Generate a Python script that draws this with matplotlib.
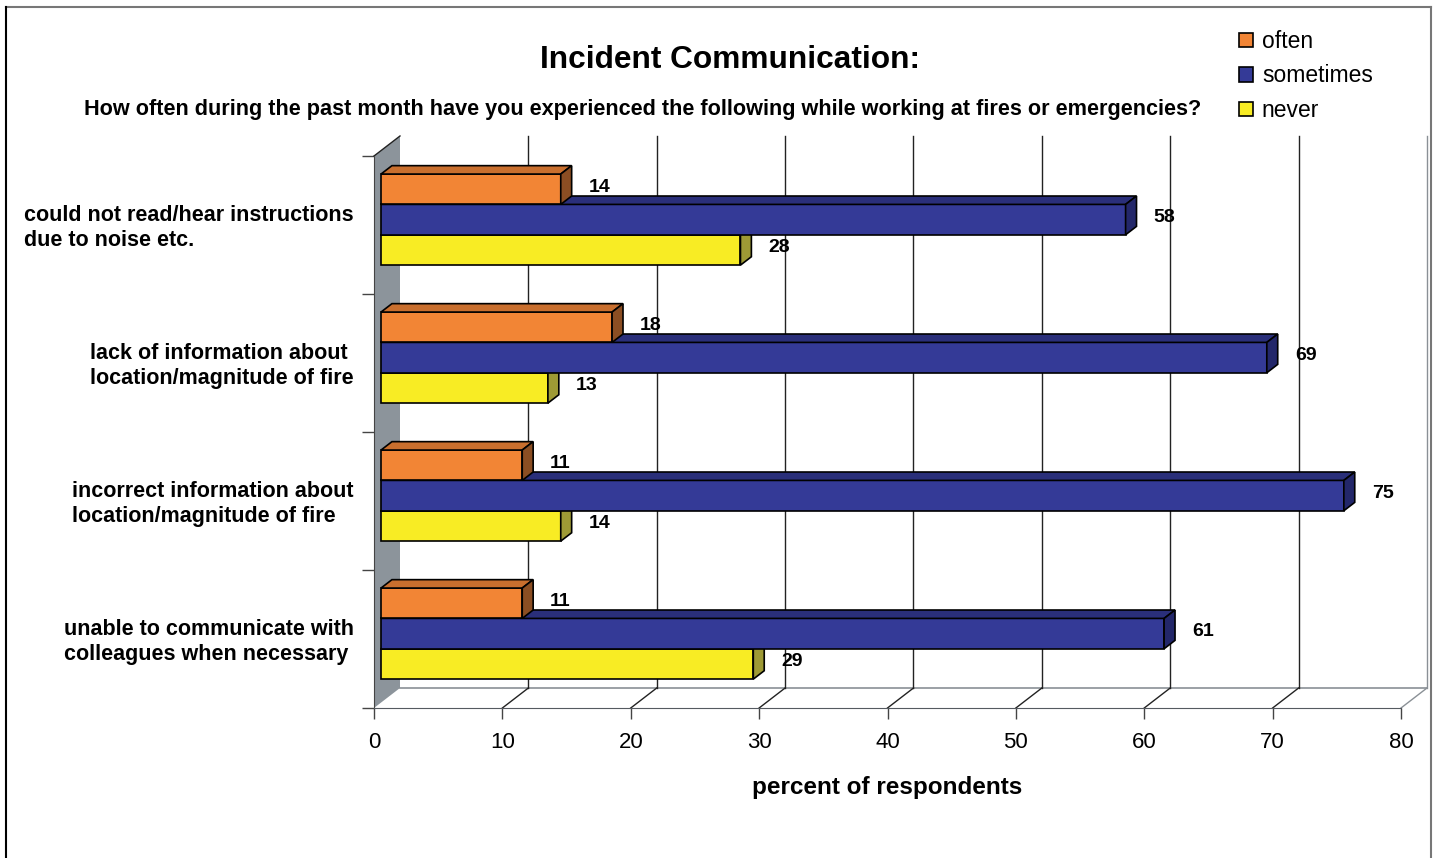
import numpy as np
import matplotlib
matplotlib.use("Agg")
import matplotlib.pyplot as plt
from matplotlib.patches import Polygon, Patch
from matplotlib.lines import Line2D

plt.rcParams['font.family'] = ['Liberation Sans', 'DejaVu Sans']

# 1 - Data
categories = ["could not read/hear instructions\ndue to noise etc.",
              "lack of information about\nlocation/magnitude of fire",
              "incorrect information about\nlocation/magnitude of fire",
              "unable to communicate with\ncolleagues when necessary"]
often = [14, 18, 11, 11]
sometimes = [58, 69, 75, 61]
never = [28, 13, 14, 29]
series_names = ['often', 'sometimes', 'never']
xticks = [0, 10, 20, 30, 40, 50, 60, 70, 80]

# face colours: front, top, side
cols = {'often': ('#F28535', '#C96F2E', '#8B4E23'),
        'sometimes': ('#343A97', '#2A2F7A', '#23276A'),
        'never': ('#F8EC24', '#C8BF1E', '#9E9A35')}

# 3-D depth expressed in data units (linear axes -> constant offsets)
DX, DY = 2.025, 0.145
D0, D1 = 0.27, 0.69   # bar front/back depth fraction
H = 0.22              # bar thickness

# 2 - Plot
fig = plt.figure(figsize=(14.35, 8.58), dpi=100)
ax = fig.add_axes([374/1435, 1-708/858, (1401-374)/1435, (708-156)/858])
ax.set_xlim(0, 80)
ax.set_ylim(0, 4)
for s in ['top', 'right']:
    ax.spines[s].set_visible(False)
ax.spines['bottom'].set_color('#555a60')
ax.spines['left'].set_color('#444444')
ax.patch.set_alpha(0)

# left wall
wall = Polygon([(0, 0), (DX, DY), (DX, 4 + DY), (0, 4)], closed=True,
               fc='#8C949B', ec='none', zorder=1, clip_on=False)
ax.add_patch(wall)
ax.plot([0, DX], [4, 4 + DY], color='#222222', lw=1, clip_on=False, zorder=2)

# floor and back gridlines
ax.plot([DX, 80 + DX], [DY, DY], color='#8A9096', lw=1.2, clip_on=False, zorder=1)
for xv in xticks[1:]:
    ax.plot([xv, xv + DX], [0, DY], color='#222222' if xv < 80 else '#8A9096',
            lw=1, clip_on=False, zorder=1)
    ax.plot([xv + DX, xv + DX], [DY, 4 + DY], color='#222222' if xv < 80 else '#8A9096',
            lw=1, clip_on=False, zorder=1)

# bars: draw bottom series first so upper bars cover lower tops
data = {'often': often, 'sometimes': sometimes, 'never': never}
shift = {'often': H, 'sometimes': 0.0, 'never': -H}
z = 3
for gi in range(len(categories)):
    yc = 3.5 - gi
    for name in ['never', 'sometimes', 'often']:
        v = data[name][gi]
        fc, tc, sc = cols[name]
        x0 = DX * D0
        yb = yc + shift[name] - H / 2 + DY * D0
        yt = yb + H
        ddx, ddy = DX * (D1 - D0), DY * (D1 - D0)
        ax.barh(yb + H / 2, v, left=x0, height=H, color=fc, edgecolor='black',
                lw=1.2, zorder=z, clip_on=False)
        top = Polygon([(x0, yt), (x0 + v, yt), (x0 + v + ddx, yt + ddy), (x0 + ddx, yt + ddy)],
                      closed=True, fc=tc, ec='black', lw=1.2, zorder=z, clip_on=False)
        side = Polygon([(x0 + v, yb), (x0 + v, yt), (x0 + v + ddx, yt + ddy), (x0 + v + ddx, yb + ddy)],
                       closed=True, fc=sc, ec='black', lw=1.2, zorder=z, clip_on=False)
        ax.add_patch(top)
        ax.add_patch(side)
        z += 1
        ax.annotate(f'{v}', (x0 + v, yb + H / 2), xytext=(28, 2), textcoords='offset pixels',
                    ha='left', va='center', fontsize=14, fontweight='bold', zorder=50)

# axes ticks
ax.set_xticks(xticks)
ax.set_xticklabels([str(t) for t in xticks], fontsize=16)
ax.tick_params(axis='x', direction='out', length=8, width=1, color='#444444', pad=9)
ax.set_yticks([0, 1, 2, 3, 4])
ax.set_yticklabels([])
ax.tick_params(axis='y', direction='out', length=9, width=1, color='#444444')
ax.set_xlabel('percent of respondents', fontsize=17.5, fontweight='bold', labelpad=17)

for gi, cat in enumerate(categories):
    ax.annotate(cat, (0, 3.5 - gi), xytext=(-20, -3), textcoords='offset pixels',
                ha='right', va='center', multialignment='left', fontsize=15.5,
                fontweight='bold', linespacing=1.25)

# titles
fig.text(730/1435, 1-60/858, 'Incident Communication:', ha='center', va='center',
         fontsize=22.8, fontweight='bold')
fig.text(643/1435, 1-109/858,
         'How often during the past month have you experienced the following while working at fires or emergencies?',
         ha='center', va='center', fontsize=15.6, fontweight='bold')

# legend
handles = [Patch(fc=cols[n][0], ec='black', lw=1.2) for n in series_names]
fig.legend(handles, series_names, loc='upper left', bbox_to_anchor=(1239/1435, 1-30/858),
           frameon=False, fontsize=16.5, handlelength=0.6, handleheight=0.6,
           handletextpad=0.4, labelspacing=0.5, borderpad=0, borderaxespad=0)

# outer frame
fig.add_artist(Line2D([6/1435, 1431/1435], [1-7/858, 1-7/858], color='#777777', lw=1.5))
fig.add_artist(Line2D([6/1435, 6/1435], [0, 1-7/858], color='black', lw=1.5))
fig.add_artist(Line2D([1431/1435, 1431/1435], [0, 1-7/858], color='#777777', lw=1.5))

fig.savefig('out.png', dpi=100, facecolor='w')
